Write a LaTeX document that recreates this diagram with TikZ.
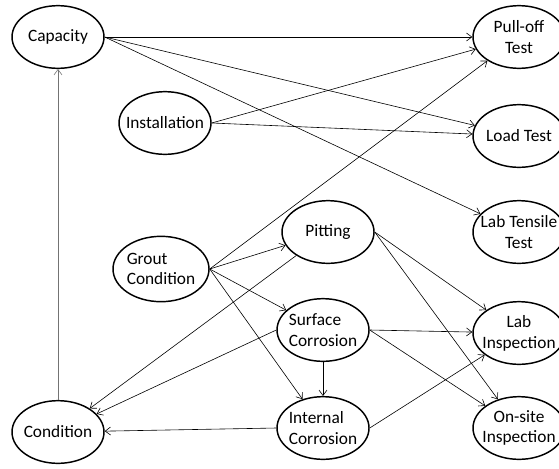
\documentclass[tikz,border=0pt]{standalone}
\usepackage{fontspec}
\setmainfont{Carlito}
\usetikzlibrary{shapes.geometric,arrows.meta}

\begin{document}
\begin{tikzpicture}[x=0.75pt,y=0.75pt,yscale=-1,xscale=1,
  state/.style={ellipse,draw,line width=1.1pt,inner sep=0pt,minimum width=69pt,minimum height=47pt},
  every label/.style={font=\fontsize{13}{15.6}\selectfont,align=center,inner sep=0pt},
  link/.style={-{Straight Barb[length=4pt,width=6pt]},line width=0.45pt}]
\useasboundingbox (0,0) rectangle (559,468);
\node [state,label={center:Capacity}] (cap) at (58,37) {};
\node [state,label={center:Installation}] (inst) at (165,123) {};
\node [state,minimum width=72pt,minimum height=49pt,label={[align=left]center:Grout\\Condition}] (grout) at (161,269) {};
\node [state,label={center:Condition}] (cond) at (58,432) {};
\node [state,label={center:Pitting}] (pit) at (328,232) {};
\node [state,label={[align=left]center:Surface\\Corrosion}] (surf) at (323,330) {};
\node [state,label={[align=left]center:Internal\\Corrosion}] (intc) at (323,428) {};
\node [state,label={center:Pull-off\\Test}] (pull) at (519,37) {};
\node [state,label={center:Load Test}] (load) at (519,136) {};
\node [state,label={center:Lab Tensile\\Test}] (tens) at (519,232) {};
\node [state,label={center:Lab\\Inspection}] (labi) at (519,333) {};
\node [state,label={center:On-site\\Inspection}] (site) at (519,428) {};

\draw [link,draw=black!55] (cond) -- (cap);
\draw [link] (cap.east) -- (pull);
\draw [link] (cap.east) -- (load);
\draw [link] (cap.east) -- (tens);
\draw [link] (inst.east) -- (pull);
\draw [link] (inst.east) -- (load);
\draw [link] (grout.east) -- (pull);
\draw [link] (grout.east) -- (pit);
\draw [link] (grout.east) -- (surf);
\draw [link] (grout.east) -- (intc);
\draw [link] (pit) -- (cond);
\draw [link] (pit.east) -- (labi);
\draw [link] (pit.east) -- (site);
\draw [link] (surf.west) -- (cond);
\draw [link] (surf.east) -- (labi);
\draw [link] (surf.east) -- (site);
\draw [link] (surf) -- (intc);
\draw [link] (intc.west) -- (cond);
\draw [link] (intc.east) -- (labi);
\end{tikzpicture}
\end{document}
